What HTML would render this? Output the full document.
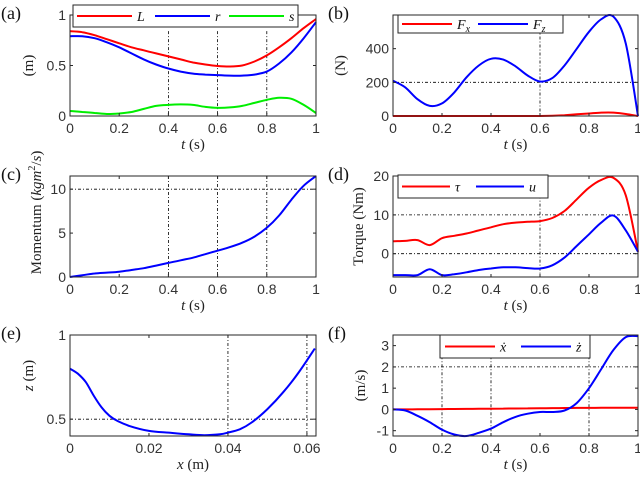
<!DOCTYPE html>
<html><head><meta charset="utf-8"><style>
body{margin:0;background:#fff}
svg text{font-family:"Liberation Sans",sans-serif}
.ser{font-family:"Liberation Serif",serif}
</style></head><body>
<svg id="fig" width="640" height="480" viewBox="0 0 640 480" xmlns="http://www.w3.org/2000/svg"></svg>
<script>
const tA=[0,.05,.1,.15,.2,.25,.3,.35,.4,.45,.5,.55,.6,.65,.7,.75,.8,.85,.9,.95,1];
const aL=[.84,.83,.80,.76,.72,.68,.65,.62,.59,.56,.53,.51,.495,.49,.50,.54,.60,.68,.77,.87,.96];
const aR=[.79,.79,.77,.73,.68,.62,.56,.51,.47,.44,.42,.41,.405,.40,.40,.41,.44,.52,.63,.77,.93];
const aS=[.05,.04,.03,.02,.025,.04,.07,.10,.11,.115,.11,.09,.08,.085,.10,.13,.16,.18,.17,.11,.03];
const bFx=[0,0,0,0,0,0,0,0,0,0,0,0,0,2,5,10,15,20,20,12,0];
const bFz=[210,170,100,60,75,140,230,300,340,335,295,240,205,225,300,400,500,575,590,430,0];
const cM=[0,.2,.4,.5,.6,.8,1.0,1.3,1.6,1.9,2.2,2.6,3.0,3.4,3.9,4.6,5.6,7.0,8.8,10.4,11.5];
const dTau=[3.2,3.3,3.5,2.2,4,4.6,5.2,6,6.8,7.6,8,8.2,8.4,9.2,11,14,17,19,19.5,15,0.5];
const dU=[-5.5,-5.5,-5.5,-4,-5.5,-5.3,-4.8,-4.2,-3.8,-3.5,-3.5,-3.7,-3.8,-3,-1,2,5,8,9.8,6,0.5];
const eX=[0,.002,.004,.006,.008,.01,.012,.015,.02,.025,.03,.034,.038,.04,.043,.046,.05,.054,.058,.062];
const eZ=[.8,.77,.72,.64,.57,.52,.49,.46,.43,.42,.41,.405,.41,.42,.44,.48,.56,.66,.78,.92];
const fXd=[0,0,.005,.01,.015,.02,.025,.03,.035,.04,.045,.05,.055,.06,.065,.07,.072,.075,.078,.08,.08];
const fZd=[0,-.05,-.3,-.6,-.95,-1.18,-1.25,-1.1,-.9,-.6,-.35,-.2,-.12,-.12,-.05,.3,1.0,1.9,2.8,3.4,3.45];
const tTicks=[0,.2,.4,.6,.8,1];
const NS="http://www.w3.org/2000/svg";
const svg=document.getElementById('fig');
function mk(tag,attrs,parent){const e=document.createElementNS(NS,tag);for(const k in attrs)e.setAttribute(k,attrs[k]);(parent||svg).appendChild(e);return e;}
function txt(s,x,y,attrs,name){const e=mk('text',Object.assign({x:x,y:y,'font-size':14,fill:'#333'},attrs||{}));e.textContent=s;


return e;}
function smooth(pts){let d='M'+pts[0][0].toFixed(1)+','+pts[0][1].toFixed(1);
for(let i=0;i<pts.length-1;i++){const p0=pts[Math.max(0,i-1)],p1=pts[i],p2=pts[i+1],p3=pts[Math.min(pts.length-1,i+2)];
const c1=[p1[0]+(p2[0]-p0[0])/6,p1[1]+(p2[1]-p0[1])/6],c2=[p2[0]-(p3[0]-p1[0])/6,p2[1]-(p3[1]-p1[1])/6];
d+='C'+c1[0].toFixed(1)+','+c1[1].toFixed(1)+' '+c2[0].toFixed(1)+','+c2[1].toFixed(1)+' '+p2[0].toFixed(1)+','+p2[1].toFixed(1);}return d;}
function panel(o){
 const g=mk('g',{});
 
 
 const X=v=>o.x0+(v-o.xl[0])/(o.xl[1]-o.xl[0])*(o.x1-o.x0);
 const Y=v=>o.y1-(v-o.yl[0])/(o.yl[1]-o.yl[0])*(o.y1-o.y0);
 (o.hl||[]).forEach(v=>{const l=mk('line',{x1:o.x0,x2:o.x1,y1:Y(v),y2:Y(v),stroke:'#000','stroke-width':0.8,'stroke-dasharray':'3,2,1,2'},g);
  });
 (o.vl||[]).forEach(v=>{const l=mk('line',{x1:X(v),x2:X(v),y1:Y(o.vtop!==undefined?o.vtop:o.yl[1]),y2:o.y1,stroke:'#000','stroke-width':0.8,'stroke-dasharray':'3,2,1,2'},g);
  });
 o.series.forEach(s=>{const pts=s.x.map((xv,i)=>[X(xv),Y(s.y[i])]);
  const p=mk('path',{d:smooth(pts),fill:'none',stroke:s.c,'stroke-width':2},g);
  });
 mk('rect',{x:o.x0,y:o.y0,width:o.x1-o.x0,height:o.y1-o.y0,fill:'none',stroke:'#262626','stroke-width':1},g);
 o.xt.forEach((v,i)=>{mk('line',{x1:X(v),x2:X(v),y1:o.y1,y2:o.y1-3,stroke:'#262626'},g);mk('line',{x1:X(v),x2:X(v),y1:o.y0,y2:o.y0+3,stroke:'#262626'},g);
  txt(o.xtl[i],X(v),o.y1+17,{'text-anchor':'middle'},'x-tick-label');});
 o.yt.forEach((v,i)=>{mk('line',{x1:o.x0,x2:o.x0+3,y1:Y(v),y2:Y(v),stroke:'#262626'},g);mk('line',{x1:o.x1,x2:o.x1-3,y1:Y(v),y2:Y(v),stroke:'#262626'},g);
  txt(o.ytl[i],o.x0-4,Y(v)+5,{'text-anchor':'end'},'y-tick-label');});
 const xl=txt('',(o.x0+o.x1)/2,o.y1+33,{'text-anchor':'middle',class:'ser',fill:'#222','font-size':15},'x-axis-title');
 xl.innerHTML=o.xlab;
 const yl=txt('',0,0,{'text-anchor':'middle',class:'ser',fill:'#222','font-size':15,transform:`translate(${o.ylx},${(o.y0+o.y1)/2+(o.yoff||0)}) rotate(-90)`},'y-axis-title');
 yl.innerHTML=o.ylab;
 txt(o.tag,o.tagx,o.y0+4,{class:'ser',fill:'#111','font-size':18},'panel-label');
 if(o.leg){const L=o.leg;const lg=mk('g',{},g);
  mk('rect',{x:L.x,y:L.y,width:L.w,height:L.h,fill:'#fff',stroke:'#262626'},lg);
  L.items.forEach(it=>{const l=mk('line',{x1:it.x,x2:it.x+L.ll,y1:L.y+L.h/2,y2:L.y+L.h/2,stroke:it.c,'stroke-width':2},lg);
   
   const t=txt('',it.x+L.ll+5,L.y+L.h/2+5,{class:'ser','font-style':'italic',fill:'#111','font-size':14},'legend-entry');t.innerHTML=it.t;});}
}
const tl=['0','0.2','0.4','0.6','0.8','1'];
const tlab='<tspan font-style="italic">t</tspan> (s)';
panel({name:'panel-a',tag:'(a)',tagx:1,x0:70,x1:316,y0:15,y1:116,xl:[0,1],yl:[0,1],xt:tTicks,xtl:tl,yt:[0,.5,1],ytl:['0','0.5','1'],
 xlab:tlab,ylab:'(m)',ylx:33,vl:[.4,.6,.8],vtop:.84,
 series:[{x:tA,y:aL,c:'#f00',n:'series-L'},{x:tA,y:aR,c:'#00f',n:'series-r'},{x:tA,y:aS,c:'#0e0',n:'series-s'}],
 leg:{x:73,y:5,w:225,h:22,ll:55,items:[{x:77,c:'#f00',t:'L'},{x:155,c:'#00f',t:'r'},{x:229,c:'#0e0',t:'s'}]}});
panel({name:'panel-b',tag:'(b)',tagx:328,x0:393,x1:638,y0:15,y1:116,xl:[0,1],yl:[0,600],xt:tTicks,xtl:tl,yt:[0,200,400],ytl:['0','200','400'],
 xlab:tlab,ylab:'(N)',ylx:345,hl:[200],vl:[.6],vtop:520,
 series:[{x:tA,y:bFx,c:'#f00',n:'series-Fx'},{x:tA,y:bFz,c:'#00f',n:'series-Fz'}],
 leg:{x:398,y:15,w:165,h:18,ll:50,items:[{x:402,c:'#f00',t:'F<tspan font-size="10" dy="3">x</tspan>'},{x:478,c:'#00f',t:'F<tspan font-size="10" dy="3">z</tspan>'}]}});
panel({name:'panel-c',tag:'(c)',tagx:1,x0:70,x1:316,y0:176,y1:277,xl:[0,1],yl:[0,11.5],xt:tTicks,xtl:tl,yt:[0,5,10],ytl:['0','5','10'],
 xlab:tlab,ylab:'Momentum (<tspan font-style="italic">kgm</tspan><tspan font-size="10" dy="-6">2</tspan><tspan dy="6">/</tspan><tspan font-style="italic">s</tspan>)',ylx:41,yoff:-14,hl:[10],vl:[.4,.6,.8],
 series:[{x:tA,y:cM,c:'#00f',n:'series-momentum'}]});
panel({name:'panel-d',tag:'(d)',tagx:328,x0:393,x1:638,y0:176,y1:277,xl:[0,1],yl:[-6,20],xt:tTicks,xtl:tl,yt:[0,10,20],ytl:['0','10','20'],
 xlab:tlab,ylab:'Torque (Nm)',ylx:363,hl:[0,10],vl:[.6],vtop:17,
 series:[{x:tA,y:dTau,c:'#f00',n:'series-tau'},{x:tA,y:dU,c:'#00f',n:'series-u'}],
 leg:{x:398,y:175,w:150,h:23,ll:48,items:[{x:402,c:'#f00',t:'τ'},{x:476,c:'#00f',t:'u'}]}});
panel({name:'panel-e',tag:'(e)',tagx:1,x0:70,x1:316,y0:335,y1:436,xl:[0,.0623],yl:[0.4,1],xt:[0,.02,.04,.06],xtl:['0','0.02','0.04','0.06'],yt:[.5,1],ytl:['0.5','1'],
 xlab:'<tspan font-style="italic">x</tspan> (m)',ylab:'<tspan font-style="italic">z</tspan> (m)',ylx:33,yoff:-10,hl:[.5],vl:[.04,.06],
 series:[{x:eX,y:eZ,c:'#00f',n:'series-trajectory'}]});
panel({name:'panel-f',tag:'(f)',tagx:328,x0:393,x1:638,y0:335,y1:436,xl:[0,1],yl:[-1.25,3.5],xt:tTicks,xtl:tl,yt:[-1,0,1,2,3],ytl:['-1','0','1','2','3'],
 xlab:tlab,ylab:'(m/s)',ylx:365,hl:[2],vl:[.2,.4,.8],vtop:2.5,
 series:[{x:tA,y:fXd,c:'#f00',n:'series-xdot'},{x:tA,y:fZd,c:'#00f',n:'series-zdot'}],
 leg:{x:440,y:335,w:150,h:23,ll:50,items:[{x:445,c:'#f00',t:'ẋ'},{x:521,c:'#00f',t:'ż'}]}});
</script>
</body></html>
